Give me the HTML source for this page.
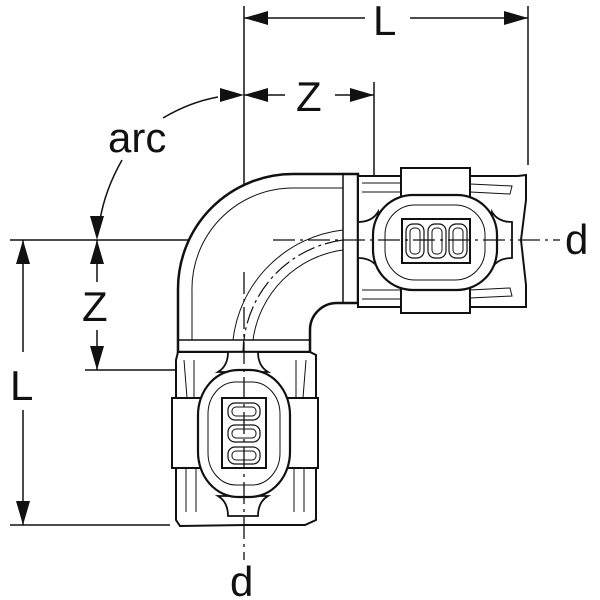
<!DOCTYPE html>
<html><head><meta charset="utf-8"><style>
html,body{margin:0;padding:0;background:#fff;}
svg{display:block;}
text{font-family:"Liberation Sans",sans-serif;fill:#111;}
</style></head><body>
<svg width="600" height="600" viewBox="0 0 600 600" xmlns="http://www.w3.org/2000/svg">
<g stroke="#111" fill="none" stroke-width="1.5">
  <line x1="244" y1="6" x2="244" y2="272"/>
  <line x1="528" y1="6" x2="528" y2="165"/>
  <line x1="374" y1="82" x2="374" y2="175"/>
  <line x1="244" y1="18" x2="365" y2="18"/>
  <line x1="410" y1="18" x2="528" y2="18"/>
  <line x1="244" y1="95" x2="285" y2="95"/>
  <line x1="335" y1="95" x2="374" y2="95"/>
  <line x1="10" y1="240" x2="273" y2="240"/>
  <line x1="10" y1="525" x2="170" y2="525"/>
  <line x1="85" y1="370" x2="180" y2="370"/>
  <line x1="23" y1="240" x2="23" y2="352"/>
  <line x1="23" y1="410" x2="23" y2="525"/>
  <line x1="97" y1="240" x2="97" y2="282"/>
  <line x1="97" y1="330" x2="97" y2="370"/>
  <path d="M163,118 Q190,102 218,97"/>
  <path d="M122,160 Q105,190 100,220"/>
</g>
<g fill="#111">
  <polygon points="244,18 268,11 268,25"/>
  <polygon points="528,18 504,11 504,25"/>
  <polygon points="244,95 268,88 268,102"/>
  <polygon points="374,95 350,88 350,102"/>
  <polygon points="244,95 220,88 220,102"/>
  <polygon points="97,240 90,264 104,264"/>
  <polygon points="97,240 90,216 104,216"/>
  <polygon points="97,370 90,346 104,346"/>
  <polygon points="23,240 16,264 30,264"/>
  <polygon points="23,525 16,501 30,501"/>
</g>
<g font-size="42">
  <text x="373" y="35">L</text>
  <text x="296" y="111">Z</text>
  <text x="108" y="152">arc</text>
  <text x="82" y="321">Z</text>
  <text x="10" y="400">L</text>
  <text x="565" y="254">d</text>
  <text x="230" y="596">d</text>
</g>
<g stroke="#111" fill="#fff" stroke-width="2">
  <path d="M178,352 V290 A115,115 0 0 1 293,174 H358 V303 H337 A27,27 0 0 0 310,330 V352 Z" stroke-width="2.5"/>
  <path d="M192,340 V292 A101,101 0 0 1 293,188 H343" stroke-width="1"/>
  <path d="M178,340 H310" stroke-width="1.5"/>
  <path d="M343,174 V303" stroke-width="1.5"/>
  <path d="M233,340 A125,125 0 0 1 343,230" stroke-width="1" fill="none"/>
  <path d="M253,340 A105,105 0 0 1 343,250" stroke-width="1" fill="none"/>
  <path d="M243,352 A115,115 0 0 1 343,240" stroke-width="1.2" fill="none" stroke-dasharray="18,4,3,4"/>
  <!-- right fitting -->
  <path d="M358,176 H518 L526,175 L526,200 L521,240 L526,285 L526,307 H358 Z"/>
  <path d="M362,183 H400 M470,184 L512,186 L510,194 L470,192 M362,299 H400 M470,298 L512,296 L510,288 L470,290" stroke-width="1" fill="none"/>
  <path d="M362,192 H400 M362,290 H400" stroke-width="1" fill="none"/>
  <rect x="401" y="168" width="69" height="145" stroke-width="2"/>
  <path d="M358,222 Q372,222 378,212 L378,268 Q372,258 358,258 Z M512,222 Q498,222 492,212 L492,268 Q498,258 512,258 Z" stroke-width="1.8"/>
  <rect x="373" y="195" width="124" height="95" rx="40" ry="40" stroke-width="2.2"/>
  <rect x="385" y="205" width="100" height="75" rx="30" ry="30" stroke-width="1"/>
  <rect x="402" y="219" width="68" height="44" stroke-width="2"/>
  <rect x="406" y="224" width="18" height="34" rx="7" stroke-width="1.2"/>
  <rect x="428" y="224" width="18" height="34" rx="7" stroke-width="1.2"/>
  <rect x="449" y="224" width="18" height="34" rx="7" stroke-width="1.2"/>
  <rect x="410" y="228" width="10" height="26" rx="4" stroke-width="1"/>
  <rect x="432" y="228" width="10" height="26" rx="4" stroke-width="1"/>
  <rect x="453" y="228" width="10" height="26" rx="4" stroke-width="1"/>
  <!-- bottom fitting -->
  <path d="M178,352 H310 L316,355 V520 L305,525 H245 L180,526 L176,520 V360 Z"/>
  <path d="M184,360 L187,398 M194,360 L194,398 M296,360 L296,398 M306,360 L303,398 M186,468 L186,512 M196,468 L196,512 M294,468 L294,512 M304,468 L304,512" stroke-width="1" fill="none"/>
  <rect x="172" y="398" width="146" height="70" stroke-width="2"/>
  <path d="M228,352 Q228,366 218,372 L268,372 Q258,366 258,352 Z M228,516 Q228,502 218,496 L268,496 Q258,502 258,516 Z" stroke-width="1.8"/>
  <rect x="198" y="370" width="92" height="127" rx="40" ry="45" stroke-width="2.2"/>
  <rect x="208" y="382" width="72" height="103" rx="28" ry="32" stroke-width="1"/>
  <rect x="222" y="398" width="44" height="70" stroke-width="2"/>
  <rect x="228" y="403" width="32" height="17" rx="7" stroke-width="1.2"/>
  <rect x="228" y="425" width="32" height="17" rx="7" stroke-width="1.2"/>
  <rect x="228" y="447" width="32" height="17" rx="7" stroke-width="1.2"/>
  <rect x="232" y="407" width="24" height="9" rx="4" stroke-width="1"/>
  <rect x="232" y="429" width="24" height="9" rx="4" stroke-width="1"/>
  <rect x="232" y="451" width="24" height="9" rx="4" stroke-width="1"/>
</g>
<g stroke="#111" fill="none" stroke-width="1.3">
  <path d="M244,272 V560" stroke-dasharray="22,5,3,5"/>
  <path d="M273,240 H560" stroke-dasharray="22,5,3,5"/>
</g>
</svg>
</body></html>
